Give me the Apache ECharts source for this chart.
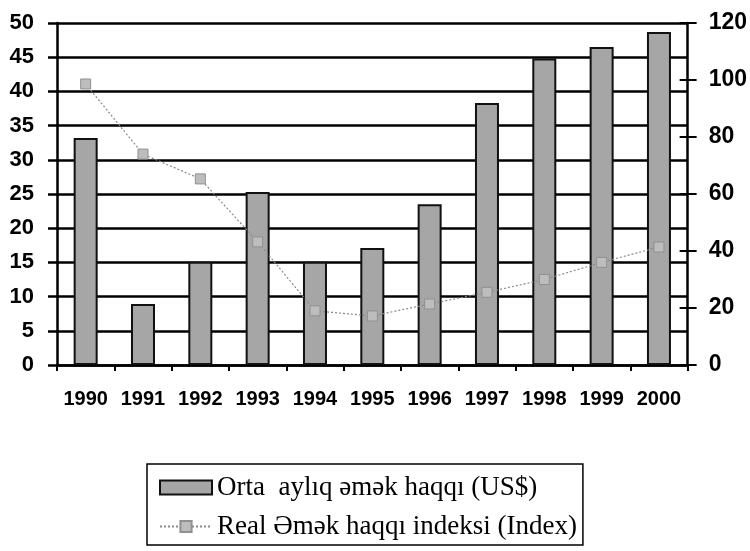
<!DOCTYPE html>
<html>
<head>
<meta charset="utf-8">
<script src="https://cdn.jsdelivr.net/npm/echarts@6/dist/echarts.min.js"></script>
<style>
  html, body { margin: 0; padding: 0; background: #fff; }
  #chart { width: 750px; height: 551px; }
</style>
</head>
<body>
<div id="chart"></div>
<script>
// Years on the category axis
const years = ['1990', '1991', '1992', '1993', '1994', '1995', '1996', '1997', '1998', '1999', '2000'];
// Average monthly wage, US$ (left axis)
const avgWage = [33.2, 8.9, 15.1, 25.3, 15.1, 17.1, 23.5, 38.3, 44.8, 46.5, 48.7];
// Real wage index (right axis)
const realIndex = [98.6, 74, 65.3, 43.2, 19, 17.2, 21.4, 25.5, 30, 36, 41.4];

const barName = 'Orta  aylıq əmək haqqı (US$)';
const lineName = 'Real Əmək haqqı indeksi (Index)';

const axisFont = { fontFamily: 'Liberation Sans', fontWeight: 'bold', color: '#000' };

const chart = echarts.init(document.getElementById('chart'), null, { renderer: 'canvas' });

chart.setOption({
  animation: false,
  backgroundColor: '#fff',
  grid: { left: 57, right: 62, top: 23, bottom: 186, containLabel: false },
  legend: {
    orient: 'vertical',
    left: 147,
    top: 464,
    padding: [9, 6, 4, 12],
    itemGap: 10,
    itemWidth: 52,
    itemHeight: 14,
    borderColor: '#000',
    borderWidth: 1.5,
    textStyle: { fontFamily: 'Liberation Serif', fontSize: 27, lineHeight: 29, color: '#000' },
    data: [
      { name: barName, icon: 'rect' },
      { name: lineName }
    ]
  },
  xAxis: {
    type: 'category',
    data: years,
    axisLine: { lineStyle: { color: '#000', width: 2.5 } },
    axisTick: { show: true, length: 6, lineStyle: { color: '#000', width: 2 } },
    axisLabel: Object.assign({ fontSize: 20, margin: 24, interval: 0, hideOverlap: false }, axisFont),
    splitLine: { show: false }
  },
  yAxis: [
    {
      type: 'value', position: 'left',
      min: 0, max: 50, interval: 5,
      axisLine: { show: true, lineStyle: { color: '#000', width: 2.5 } },
      axisTick: { show: true, length: 9, lineStyle: { color: '#000', width: 2.5 } },
      axisLabel: Object.assign({ fontSize: 22, margin: 23 }, axisFont),
      splitLine: { show: true, lineStyle: { color: '#000', width: 2.5 } }
    },
    {
      type: 'value', position: 'right',
      min: 0, max: 120, interval: 20,
      axisLine: { show: true, lineStyle: { color: '#000', width: 2.5 } },
      axisTick: { show: true, length: 9, lineStyle: { color: '#000', width: 2 } },
      axisLabel: Object.assign({ fontSize: 23, margin: 21 }, axisFont),
      splitLine: { show: false }
    },
    {
      // inner half of the right-hand cross ticks
      type: 'value', position: 'right',
      min: 0, max: 120, interval: 20,
      axisLine: { show: false },
      axisTick: { show: true, inside: true, length: 8, lineStyle: { color: '#000', width: 2 } },
      axisLabel: { show: false },
      splitLine: { show: false }
    }
  ],
  series: [
    {
      name: barName,
      type: 'bar',
      yAxisIndex: 0,
      data: avgWage,
      barWidth: 24,
      itemStyle: {
        color: '#a6a6a6',
        borderColor: '#111',
        borderWidth: 2
      }
    },
    {
      name: lineName,
      type: 'line',
      yAxisIndex: 1,
      data: realIndex,
      symbol: 'rect',
      symbolSize: 10,
      z: 5,
      lineStyle: { color: '#8a8a8a', width: 1.2, type: [2, 2] },
      itemStyle: { color: '#bdbdbd', borderColor: '#909090', borderWidth: 1 }
    }
  ]
});
</script>
</body>
</html>
